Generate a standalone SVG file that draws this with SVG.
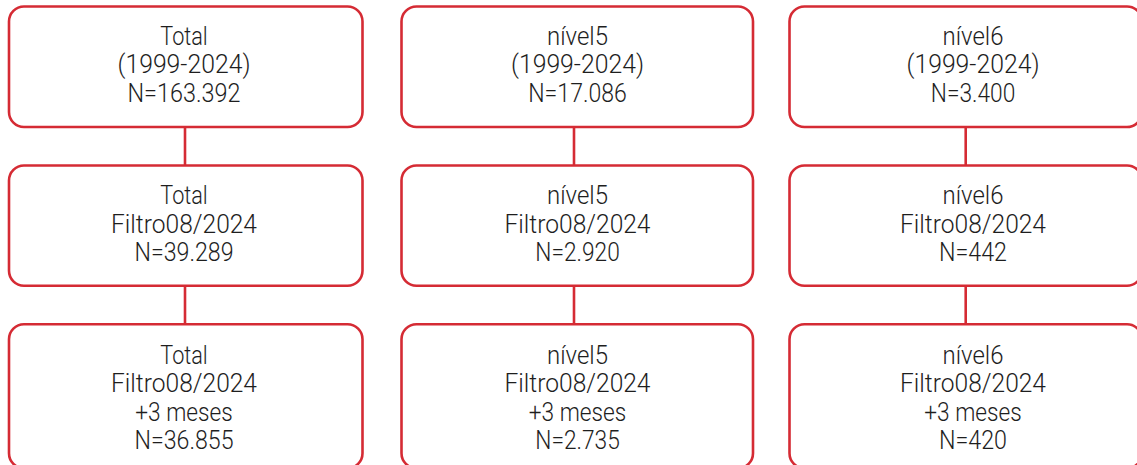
<svg xmlns="http://www.w3.org/2000/svg" width="1137" height="465" viewBox="0 0 1137 465">
<style>
.box{fill:#fff;stroke:#d52b34;stroke-width:2.6}
.con{stroke:#d52b34;stroke-width:2.6;fill:none}
text{font-family:Roboto,"Liberation Sans",sans-serif;font-weight:300;font-size:26px;fill:#1e1e1e;text-anchor:middle}
</style>
<rect width="1137" height="465" fill="#fff"/>
<g id="connectors">
<line class="con" x1="185" y1="127" x2="185" y2="165.5"/>
<line class="con" x1="185" y1="285.7" x2="185" y2="324.3"/>
<line class="con" x1="574" y1="127" x2="574" y2="165.5"/>
<line class="con" x1="574" y1="285.7" x2="574" y2="324.3"/>
<line class="con" x1="965.7" y1="127" x2="965.7" y2="165.5"/>
<line class="con" x1="965.7" y1="285.7" x2="965.7" y2="324.3"/>
</g>
<g id="n1">
<rect class="box" x="9" y="6.5" width="353.5" height="120.5" rx="15"/>
<text x="184" y="45" textLength="47.5" lengthAdjust="spacingAndGlyphs">Total</text>
<text x="184" y="73.3" textLength="133" lengthAdjust="spacingAndGlyphs">(1999-2024)</text>
<text x="184" y="101.7" textLength="113" lengthAdjust="spacingAndGlyphs">N=163.392</text>
</g>
<g id="n2">
<rect class="box" x="401.5" y="6.5" width="351.5" height="120.5" rx="15"/>
<text x="577.5" y="45" textLength="61" lengthAdjust="spacingAndGlyphs">nível5</text>
<text x="577.5" y="73.3" textLength="133" lengthAdjust="spacingAndGlyphs">(1999-2024)</text>
<text x="577.5" y="101.7" textLength="98.5" lengthAdjust="spacingAndGlyphs">N=17.086</text>
</g>
<g id="n3">
<rect class="box" x="789.5" y="6.5" width="352.5" height="120.5" rx="15"/>
<text x="973" y="45" textLength="61" lengthAdjust="spacingAndGlyphs">nível6</text>
<text x="973" y="73.3" textLength="133" lengthAdjust="spacingAndGlyphs">(1999-2024)</text>
<text x="973" y="101.7" textLength="84.5" lengthAdjust="spacingAndGlyphs">N=3.400</text>
</g>
<g id="n4">
<rect class="box" x="9" y="165.5" width="353.5" height="120.2" rx="15"/>
<text x="184" y="204.3" textLength="47.5" lengthAdjust="spacingAndGlyphs">Total</text>
<text x="184" y="232.5" textLength="146" lengthAdjust="spacingAndGlyphs">Filtro08/2024</text>
<text x="184" y="261" textLength="99" lengthAdjust="spacingAndGlyphs">N=39.289</text>
</g>
<g id="n5">
<rect class="box" x="401.5" y="165.5" width="351.5" height="120.2" rx="15"/>
<text x="577.5" y="204.3" textLength="61" lengthAdjust="spacingAndGlyphs">nível5</text>
<text x="577.5" y="232.5" textLength="146" lengthAdjust="spacingAndGlyphs">Filtro08/2024</text>
<text x="577.5" y="261" textLength="84.5" lengthAdjust="spacingAndGlyphs">N=2.920</text>
</g>
<g id="n6">
<rect class="box" x="789.5" y="165.5" width="352.5" height="120.2" rx="15"/>
<text x="973" y="204.3" textLength="61" lengthAdjust="spacingAndGlyphs">nível6</text>
<text x="973" y="232.5" textLength="146" lengthAdjust="spacingAndGlyphs">Filtro08/2024</text>
<text x="973" y="261" textLength="68" lengthAdjust="spacingAndGlyphs">N=442</text>
</g>
<g id="n7">
<rect class="box" x="9" y="324.3" width="353.5" height="144" rx="15"/>
<text x="184" y="364" textLength="47.5" lengthAdjust="spacingAndGlyphs">Total</text>
<text x="184" y="392.3" textLength="146" lengthAdjust="spacingAndGlyphs">Filtro08/2024</text>
<text x="184" y="420.7" textLength="97.5" lengthAdjust="spacingAndGlyphs">+3 meses</text>
<text x="184" y="449" textLength="99" lengthAdjust="spacingAndGlyphs">N=36.855</text>
</g>
<g id="n8">
<rect class="box" x="401.5" y="324.3" width="351.5" height="144" rx="15"/>
<text x="577.5" y="364" textLength="61" lengthAdjust="spacingAndGlyphs">nível5</text>
<text x="577.5" y="392.3" textLength="146" lengthAdjust="spacingAndGlyphs">Filtro08/2024</text>
<text x="577.5" y="420.7" textLength="97.5" lengthAdjust="spacingAndGlyphs">+3 meses</text>
<text x="577.5" y="449" textLength="84.5" lengthAdjust="spacingAndGlyphs">N=2.735</text>
</g>
<g id="n9">
<rect class="box" x="789.5" y="324.3" width="352.5" height="144" rx="15"/>
<text x="973" y="364" textLength="61" lengthAdjust="spacingAndGlyphs">nível6</text>
<text x="973" y="392.3" textLength="146" lengthAdjust="spacingAndGlyphs">Filtro08/2024</text>
<text x="973" y="420.7" textLength="97.5" lengthAdjust="spacingAndGlyphs">+3 meses</text>
<text x="973" y="449" textLength="68" lengthAdjust="spacingAndGlyphs">N=420</text>
</g>
</svg>
